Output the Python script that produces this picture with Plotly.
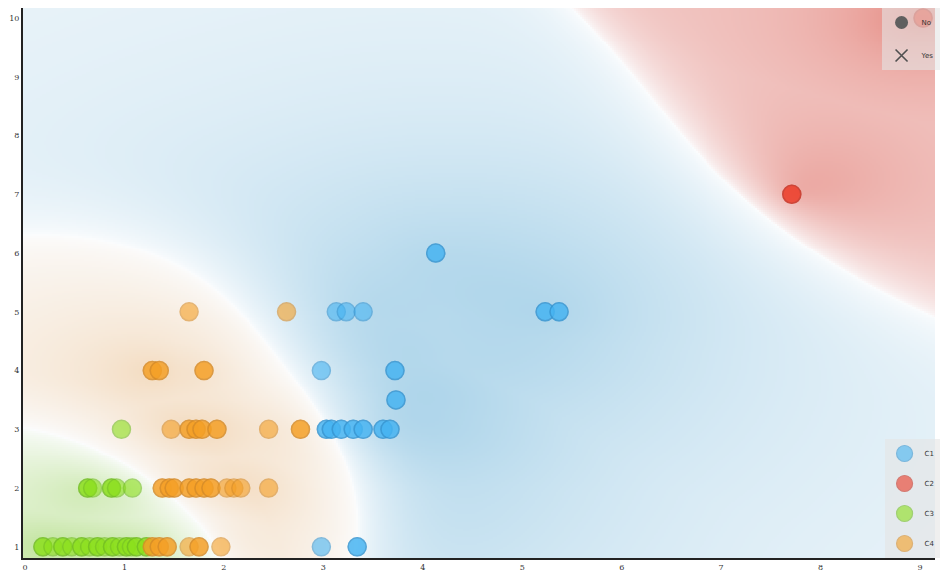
import numpy as np
import plotly.graph_objects as go

# ---- data -------------------------------------------------------------
# Each class: x, y and how many records share that position.
classes = ["C1", "C2", "C3", "C4"]

c1_x = [4.13, 5.23, 5.37, 3.13, 3.23, 3.40, 2.98, 3.72, 3.73,
        3.03, 3.08, 3.18, 3.30, 3.40, 3.60, 3.67, 2.98, 3.34]
c1_y = [6, 5, 5, 5, 5, 5, 4, 4, 3.5, 3, 3, 3, 3, 3, 3, 3, 1, 1]
c1_n = [2, 2, 2, 1, 1, 1, 1, 2, 2, 2, 2, 2, 2, 2, 2, 2, 1, 2]

c2_x = [7.71, 9.03]
c2_y = [7.0, 10.0]
c2_n = [2, 2]

c3_x = [0.97, 0.63, 0.68, 0.87, 0.92, 1.08,
        0.18, 0.28, 0.38, 0.47, 0.57, 0.65, 0.73, 0.80, 0.88, 0.95, 1.02, 1.07, 1.12, 1.22]
c3_y = [3, 2, 2, 2, 2, 2,
        1, 1, 1, 1, 1, 1, 1, 1, 1, 1, 1, 1, 1, 1]
c3_n = [1, 2, 1, 2, 1, 1,
        2, 1, 2, 1, 2, 1, 2, 1, 2, 1, 2, 1, 2, 2]

c4_x = [1.65, 2.63,
        1.28, 1.35, 1.80,
        1.47, 1.65, 1.72, 1.78, 1.93, 2.45, 2.77,
        1.38, 1.45, 1.50, 1.65, 1.72, 1.80, 1.87, 2.03, 2.10, 2.17, 2.45,
        1.28, 1.35, 1.43, 1.65, 1.75, 1.97]
c4_y = [5, 5,
        4, 4, 4,
        3, 3, 3, 3, 3, 3, 3,
        2, 2, 2, 2, 2, 2, 2, 2, 2, 2, 2,
        1, 1, 1, 1, 1, 1]
c4_n = [1, 1,
        2, 2, 2,
        1, 2, 2, 2, 2, 1, 2,
        2, 2, 2, 2, 2, 2, 2, 1, 1, 1, 1,
        2, 2, 2, 1, 2, 1]

x_ticks = list(range(0, 10))
y_ticks = list(range(1, 11))

# ---- styling ----------------------------------------------------------
X_RANGE = [-0.02, 9.15]
Y_RANGE = [0.81, 10.17]

marker_fill = ["rgb(70,180,242)", "rgb(236,58,38)", "rgb(140,224,28)", "rgb(245,160,38)"]
marker_edge = ["rgb(55,150,210)", "rgb(200,50,35)", "rgb(115,190,35)", "rgb(215,140,40)"]

# density background settings per class
tint = np.array([[148, 200, 228], [226, 118, 108], [170, 218, 118], [238, 196, 148]], float)
region_bw = [1.5, 1.3, 0.8, 1.0]      # kernel width deciding the region
region_weight = [1.0, 0.55, 3.5, 1.6]
shade_k = [8, 2, 4, 4]                # neighbours used for the shade depth
shade_scale = [2.2, 0.9, 0.8, 1.0]
shade_floor = [0.15, 0.45, 0.2, 0.25]
peak_alpha = [1.0, 0.9, 0.85, 0.75]

series = [(c1_x, c1_y, c1_n), (c2_x, c2_y, c2_n),
          (c3_x, c3_y, c3_n), (c4_x, c4_y, c4_n)]
expanded = [(np.repeat(np.asarray(xs, float), n), np.repeat(np.asarray(ys, float), n))
            for xs, ys, n in series]

# ---- class density background -----------------------------------------
gx = np.linspace(X_RANGE[0], X_RANGE[1], 460)
gy = np.linspace(Y_RANGE[0], Y_RANGE[1], 280)
GX, GY = np.meshgrid(gx, gy)


def sq_dist(xs, ys):
    return (GX[..., None] - xs) ** 2 + (GY[..., None] - ys) ** 2


scores, depth_all = [], []
for i, (xs, ys) in enumerate(expanded):
    d2 = sq_dist(xs, ys)
    scores.append(region_weight[i] * np.exp(-d2 / (2 * region_bw[i] ** 2)).sum(-1))
    near = np.sort(np.sqrt(d2), -1)[..., :shade_k[i]].mean(-1)
    f = shade_floor[i]
    depth_all.append(f + (1 - f) * np.exp(-near / shade_scale[i]))
scores = np.stack(scores, -1)
depth_all = np.stack(depth_all, -1)

sharp = scores ** 1.5
prob = sharp / (sharp.sum(-1, keepdims=True) + 1e-12)
srt = np.sort(prob, -1)
margin = srt[..., -1] - srt[..., -2]
winner = prob.argmax(-1)

depth = np.take_along_axis(depth_all, winner[..., None], -1)[..., 0]
alpha = np.clip(np.asarray(peak_alpha)[winner] * margin ** 0.6 * depth, 0, 0.95)

white = np.array([252, 253, 254], float)
rgb = white * (1 - alpha[..., None]) + tint[winner] * alpha[..., None]
img = np.clip(rgb, 0, 255).astype(np.uint8)

fig = go.Figure()
fig.add_trace(go.Image(
    z=img, x0=gx[0], dx=gx[1] - gx[0], y0=gy[0], dy=gy[1] - gy[0],
    hoverinfo="skip",
))

# ---- class points (semi-transparent, stacked records look darker) -------
for i, (name, (xs, ys)) in enumerate(zip(classes, expanded)):
    fig.add_trace(go.Scatter(
        x=xs, y=ys, mode="markers", name=name, showlegend=False,
        marker=dict(size=18, color=marker_fill[i], opacity=0.6,
                    line=dict(color=marker_edge[i], width=1.5)),
    ))

# legend entries for class colours
for i, name in enumerate(classes):
    fig.add_trace(go.Scatter(
        x=[None], y=[None], mode="markers", name=name, legend="legend2",
        legendgroup=name,
        marker=dict(size=16, color=marker_fill[i], opacity=0.6,
                    line=dict(color=marker_edge[i], width=1.2)),
    ))

# legend entries for symbol meaning
fig.add_trace(go.Scatter(
    x=[None], y=[None], mode="markers", name="No", legend="legend", legendgroup="no",
    marker=dict(size=13, color="rgb(95,95,95)", symbol="circle"),
))
fig.add_trace(go.Scatter(
    x=[None], y=[None], mode="markers", name="Yes", legend="legend", legendgroup="yes",
    marker=dict(size=12, color="rgb(80,80,80)", symbol="x-thin-open",
                line=dict(width=1.6, color="rgb(80,80,80)")),
))

axis_font = dict(family="DejaVu Serif", size=8, color="#333")
grid = "rgba(105,105,105,0.5)"
fig.update_layout(
    width=944, height=577,
    margin=dict(l=23, r=4, t=8, b=19),
    paper_bgcolor="white", plot_bgcolor="white",
    xaxis=dict(range=X_RANGE, tickvals=x_ticks, showgrid=True,
               gridcolor=grid, gridwidth=1, zeroline=False,
               showline=True, linecolor="#222", linewidth=2, ticks="",
               tickfont=axis_font, constrain="range"),
    yaxis=dict(range=Y_RANGE, tickvals=y_ticks, showgrid=True, autorange=False,
               gridcolor=grid, gridwidth=1, zeroline=False,
               showline=True, linecolor="#222", linewidth=2, ticks="",
               tickfont=axis_font, scaleanchor=False, constrain="range"),
    legend=dict(x=1.005, xanchor="right", y=1.0, yanchor="top",
                bgcolor="rgba(228,228,228,0.6)", borderwidth=0,
                font=dict(family="DejaVu Sans", size=7, color="#333"),
                itemwidth=30, tracegroupgap=14),
    legend2=dict(x=1.005, xanchor="right", y=0.0, yanchor="bottom",
                 bgcolor="rgba(228,228,228,0.6)", borderwidth=0,
                 font=dict(family="DejaVu Sans", size=7, color="#333"),
                 itemwidth=30, tracegroupgap=11),
    showlegend=True,
)

fig.write_html("out.html")
